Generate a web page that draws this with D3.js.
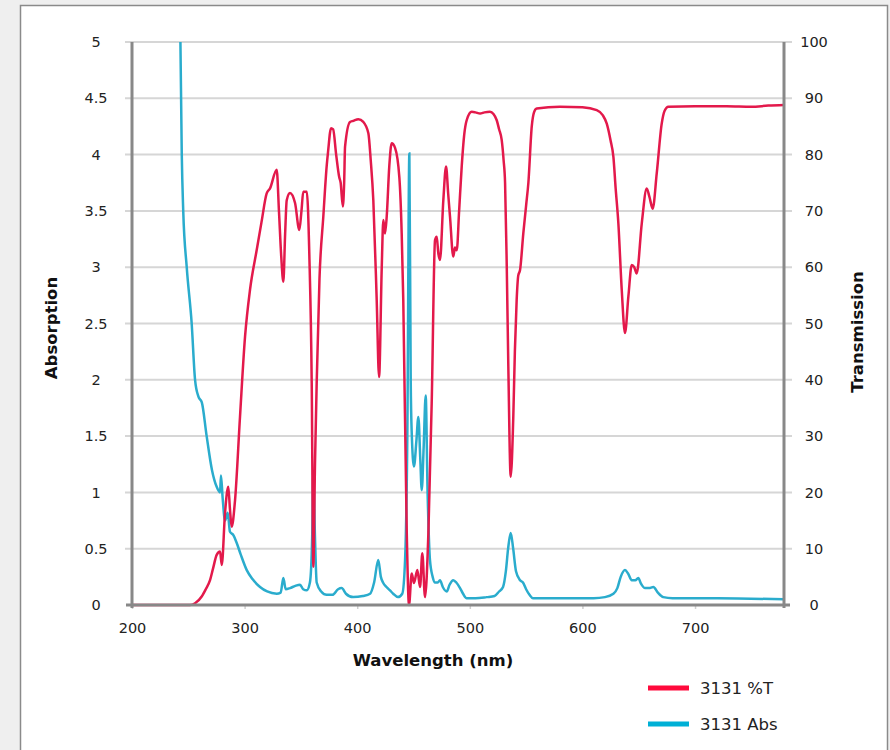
<!DOCTYPE html>
<html>
<head>
<meta charset="utf-8">
<script src="https://cdn.jsdelivr.net/npm/d3@7"></script>
<style>
  body { margin: 0; background: #efefef; font-family: "DejaVu Sans", sans-serif; }
  svg { display: block; }
</style>
</head>
<body>
<div id="chart-container"></div>
<script>
// wavelength ticks and axis ticks
const xTicks = [200, 300, 400, 500, 600, 700];
const absTicks = [0, 0.5, 1, 1.5, 2, 2.5, 3, 3.5, 4, 4.5, 5];
const transTicks = [0, 10, 20, 30, 40, 50, 60, 70, 80, 90, 100];

// 3131 %T (transmission)
const transNm = [200, 251.5, 256, 261.9, 265.5, 269.3, 272, 275.2, 278.2, 279.7, 282.6, 285.5, 287, 288.5, 291.5,
  295.9, 300.4, 304.8, 310.7, 315, 319.6, 322.6, 328.5, 330.5, 332.5, 334.4, 336, 337.4, 340.3, 344.8, 348.6,
  350.5, 352.1, 355.2, 357.5, 359.6, 361, 362.5, 364, 366.5, 369.9, 372.9, 374.1, 376.8, 378.6, 381.3, 384,
  385.3, 387.2, 388.4, 389.2, 393.6, 396.5, 401, 405.4, 409.9, 412, 414.3, 417.3, 419.4, 421.8, 423.2, 424.7,
  426.2, 428.5, 430.6, 433.6, 437.4, 439.5, 440.9, 444, 446, 448.4, 450.4, 453.4, 455.8, 457.8, 460.2, 463.2,
  466.2, 469.1, 470.6, 472, 473.5, 476.5, 478.9, 480.8, 482.4, 485.3, 486.8, 488.4, 490.5, 492.8, 495, 497.2,
  501.7, 505, 509.1, 513, 517.9, 521, 523.9, 526, 528.3, 530, 531.3, 532.8, 534.2, 536.3, 538.6, 540, 541.6,
  543, 544.6, 547.5, 550, 552, 555, 557, 559.4, 580, 600, 612.7, 618, 621.6, 625, 627.5, 629.5, 631.9, 634.9,
  637.8, 640.8, 643.8, 646, 648.2, 652.7, 657.1, 659.5, 662.4, 666, 670.4, 673, 676.3, 700, 728.1, 750, 765, 779];
const transVal = [0, 0, 0.3, 1.5, 2.8, 4.4, 6.5, 8.9, 9.5, 7.1, 16.3, 21, 17, 13.9, 18.6,
  33.4, 47.7, 56, 63, 68, 73.1, 74, 77.3, 70, 62, 57.4, 66, 71.9, 73.2, 71.4, 66.6,
  70, 73.4, 73.4, 62, 39.4, 6.8, 25, 39.4, 58, 69, 78, 80.5, 84.7, 84.5, 80, 76,
  75, 70.8, 75, 81.4, 85.8, 86, 86.3, 85.8, 83.8, 79, 71.9, 54.2, 40.5, 60.1, 68.4, 66,
  69, 78, 82, 81.2, 76, 66, 54.2, 12.8, 0, 5.6, 3.9, 6.2, 3.2, 9.2, 1.4, 12.8,
  36.4, 64.8, 65.4, 62.5, 61.3, 72, 77.9, 73, 69, 61.9, 63.5, 63, 70, 77.9, 83.5, 86.1,
  87.6, 87.5, 87.3, 87.5, 87.6, 87.2, 86.1, 84.5, 82.6, 79, 75, 60.1, 42.3, 22.8, 33.4, 45, 54.2,
  58.5, 59.5, 66, 71, 75, 85, 87.5, 88.2, 88.5, 88.4, 87.9, 87, 85.5, 82.5, 79.6, 74, 67.8, 56,
  48.3, 54.8, 60.4, 60, 58.9, 67.8, 74, 72.5, 70.4, 76.7, 85.5, 87.8, 88.5, 88.6, 88.6, 88.5, 88.7, 88.8];

// 3131 Abs (absorption)
const absNm = [243, 244.2, 245.5, 248.6, 253, 256, 259, 262, 266.3, 271, 275.2, 278.2, 279, 280.5, 282.6, 285,
  287, 290, 293, 296.5, 301.9, 307, 313.7, 320, 328.5, 332, 334.4, 336.5, 340.3, 345, 349.2, 352, 355.2, 358,
  360, 361, 362.5, 364, 368, 372.9, 378, 383, 386.2, 390, 396.3, 405, 411.4, 415, 418.7, 421, 422.9, 426,
  429.1, 432, 436.2, 440, 442.5, 444.5, 446.3, 447.5, 448.4, 450.4, 452.5, 454.3, 456, 457.3, 459, 460.8,
  462.5, 464.6, 467, 469.1, 471.5, 473.5, 476, 479.5, 482, 485.3, 488, 491.3, 494, 497.2, 505, 515, 522,
  526, 529.5, 532, 534, 536.3, 538.5, 541, 544.6, 547.2, 550, 553, 556.1, 570, 590, 610, 620, 627.5, 631,
  634, 637.8, 640.5, 643.8, 647, 649.6, 652, 655.6, 659, 663, 667, 671.8, 680, 720, 779];
const absVal = [5, 4.0, 3.5, 3.0, 2.5, 2.0, 1.85, 1.8, 1.5, 1.2, 1.05, 1.0, 1.15, 0.95, 0.75, 0.82,
  0.65, 0.62, 0.55, 0.45, 0.31, 0.23, 0.16, 0.12, 0.1, 0.11, 0.24, 0.14, 0.15, 0.17, 0.18, 0.14, 0.13, 0.2,
  0.6, 1.17, 0.6, 0.2, 0.12, 0.09, 0.09, 0.14, 0.15, 0.1, 0.07, 0.08, 0.1, 0.2, 0.4, 0.25, 0.2, 0.16,
  0.13, 0.1, 0.07, 0.1, 0.4, 1.5, 4.01, 2.0, 1.53, 1.23, 1.45, 1.67, 1.3, 1.02, 1.4, 1.86,
  1.0, 0.4, 0.25, 0.2, 0.2, 0.22, 0.16, 0.12, 0.18, 0.22, 0.2, 0.15, 0.1, 0.06, 0.06, 0.07, 0.08,
  0.12, 0.16, 0.3, 0.5, 0.64, 0.5, 0.3, 0.22, 0.2, 0.14, 0.09, 0.06, 0.06, 0.06, 0.06, 0.07, 0.1, 0.15,
  0.25, 0.31, 0.28, 0.22, 0.22, 0.24, 0.19, 0.15, 0.15, 0.16, 0.11, 0.07, 0.06, 0.06, 0.05];

const width = 890;
const height = 750;
const plotLeft = 132, plotRight = 784, plotTop = 42, plotBottom = 605;
const font = "DejaVu Sans, sans-serif";

const svg = d3.select("#chart-container")
    .append("svg")
    .attr("width", width)
    .attr("height", height);

// white panel with gray frame
svg.append("rect")
    .attr("x", 20.5).attr("y", 5.5)
    .attr("width", 867).attr("height", 760)
    .attr("fill", "#fff")
    .attr("stroke", "#8a8a8a")
    .attr("stroke-width", 1.5);

const x = d3.scaleLinear().domain([200, 779]).range([plotLeft, plotRight]);
const yAbs = d3.scaleLinear().domain([0, 5]).range([plotBottom, plotTop]);
const yT = d3.scaleLinear().domain([0, 100]).range([plotBottom, plotTop]);

// gridlines
svg.append("g")
    .selectAll("line")
    .data(absTicks.slice(1))
    .join("line")
    .attr("x1", plotLeft - 7).attr("x2", plotRight + 8)
    .attr("y1", d => yAbs(d)).attr("y2", d => yAbs(d))
    .attr("stroke", "#d6d6d6")
    .attr("stroke-width", 2);

// left axis
const gLeft = svg.append("g").attr("transform", `translate(${plotLeft},0)`)
    .call(d3.axisLeft(yAbs).tickValues(absTicks).tickSize(0).tickPadding(0).tickFormat(d3.format("")));
gLeft.select(".domain").remove();
gLeft.selectAll("text")
    .attr("x", -36).attr("dy", "0.32em")
    .attr("text-anchor", "middle")
    .attr("font-family", font)
    .attr("font-size", 14.5)
    .attr("fill", "#222");

// right axis
const gRight = svg.append("g").attr("transform", `translate(${plotRight},0)`)
    .call(d3.axisRight(yT).tickValues(transTicks).tickSize(0).tickPadding(0));
gRight.select(".domain").remove();
gRight.selectAll("text")
    .attr("x", 30).attr("dy", "0.32em")
    .attr("text-anchor", "middle")
    .attr("font-family", font)
    .attr("font-size", 14.5)
    .attr("fill", "#222");

// bottom axis
const gBottom = svg.append("g").attr("transform", `translate(0,${plotBottom})`)
    .call(d3.axisBottom(x).tickValues(xTicks).tickSize(4).tickPadding(14));
gBottom.select(".domain").remove();
gBottom.selectAll("line").attr("stroke", "#cfcfcf").attr("stroke-width", 1.5);
gBottom.selectAll("text")
    .attr("font-family", font)
    .attr("font-size", 14.5)
    .attr("fill", "#222");

// curves
svg.append("clipPath").attr("id", "plot-clip")
    .append("rect")
    .attr("x", plotLeft).attr("y", plotTop)
    .attr("width", plotRight - plotLeft).attr("height", plotBottom - plotTop + 2);

const transData = transNm.map((d, i) => ({ nm: d, v: transVal[i] }));
const absData = absNm.map((d, i) => ({ nm: d, v: absVal[i] }));

const lineT = d3.line().x(d => x(d.nm)).y(d => yT(d.v)).curve(d3.curveMonotoneX);
const lineA = d3.line().x(d => x(d.nm)).y(d => yAbs(d.v)).curve(d3.curveMonotoneX);

const plot = svg.append("g").attr("clip-path", "url(#plot-clip)");
plot.append("path")
    .datum(absData)
    .attr("d", lineA)
    .attr("fill", "none")
    .attr("stroke", "#2aaccd")
    .attr("stroke-width", 2.5);
plot.append("path")
    .datum(transData)
    .attr("d", lineT)
    .attr("fill", "none")
    .attr("stroke", "#e3194b")
    .attr("stroke-width", 2.5);

// axis lines on top
svg.append("line")
    .attr("x1", plotLeft - 6).attr("x2", plotRight + 6)
    .attr("y1", plotBottom).attr("y2", plotBottom)
    .attr("stroke", "#888").attr("stroke-width", 3);
svg.append("line")
    .attr("x1", plotLeft).attr("x2", plotLeft)
    .attr("y1", plotTop).attr("y2", plotBottom + 3)
    .attr("stroke", "#888").attr("stroke-width", 3);
svg.append("line")
    .attr("x1", plotRight).attr("x2", plotRight)
    .attr("y1", plotTop).attr("y2", plotBottom + 3)
    .attr("stroke", "#888").attr("stroke-width", 3);

// axis titles
const titles = [
    { text: "Wavelength (nm)", transform: "translate(433,666)" },
    { text: "Absorption", transform: "translate(57,328) rotate(-90)" },
    { text: "Transmission", transform: "translate(863,332) rotate(-90)" }
];
svg.append("g")
    .selectAll("text")
    .data(titles)
    .join("text")
    .attr("transform", d => d.transform)
    .attr("text-anchor", "middle")
    .attr("font-family", font)
    .attr("font-weight", "bold")
    .attr("font-size", 16.5)
    .attr("fill", "#111")
    .text(d => d.text);

// legend
const legendItems = [
    { label: "3131 %T", color: "#ff0a3c", y: 688 },
    { label: "3131 Abs", color: "#00b0d6", y: 724 }
];
const legend = svg.append("g");
legend.selectAll("line")
    .data(legendItems)
    .join("line")
    .attr("x1", 648).attr("x2", 689)
    .attr("y1", d => d.y).attr("y2", d => d.y)
    .attr("stroke", d => d.color)
    .attr("stroke-width", 5);
legend.selectAll("text")
    .data(legendItems)
    .join("text")
    .attr("x", 700).attr("y", d => d.y)
    .attr("dy", "0.36em")
    .attr("font-family", font)
    .attr("font-size", 16.5)
    .attr("fill", "#222")
    .text(d => d.label);
</script>
</body>
</html>
